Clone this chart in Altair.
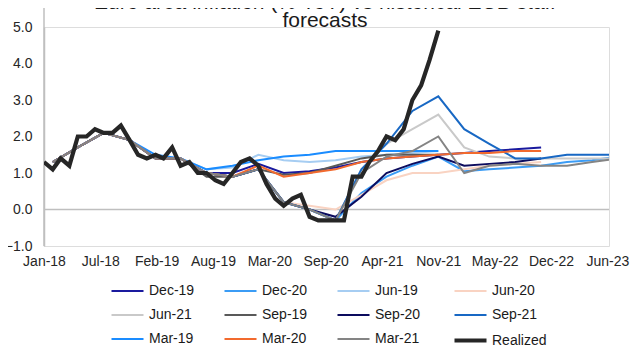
import altair as alt
import pandas as pd

# ---------------- data ----------------
MONTHS = pd.date_range("2018-01-01", "2021-11-01", freq="MS").strftime("%Y-%m-%d").tolist()
REALIZED = [1.3, 1.1, 1.4, 1.2, 2.0, 2.0, 2.2, 2.1, 2.1, 2.3, 1.9, 1.5,
            1.4, 1.5, 1.4, 1.7, 1.2, 1.3, 1.0, 1.0, 0.8, 0.7, 1.0, 1.3,
            1.4, 1.2, 0.7, 0.3, 0.1, 0.3, 0.4, -0.2, -0.3, -0.3, -0.3, -0.3,
            0.9, 0.9, 1.3, 1.6, 2.0, 1.9, 2.2, 3.0, 3.4, 4.1, 4.9]

QUARTERS = ["2018-02-01", "2018-05-01", "2018-08-01", "2018-11-01",
            "2019-02-01", "2019-05-01", "2019-08-01", "2019-11-01",
            "2020-02-01", "2020-05-01", "2020-08-01", "2020-11-01",
            "2021-02-01", "2021-05-01", "2021-08-01", "2021-11-01",
            "2022-02-01", "2022-05-01", "2022-08-01", "2022-11-01",
            "2023-02-01", "2023-05-01", "2023-08-01", "2023-11-01"]
# quarterly history known to the projections
HIST = [1.3, 1.7, 2.1, 1.9, 1.4, 1.4, 1.0, 0.9, 1.1, 0.2, 0.0, -0.3, 1.1, 1.8]

# projection paths: (index of first projected quarter, values)
MAR19 = (4, [1.5, 1.4, 1.1, 1.2, 1.35, 1.45, 1.5, 1.6, 1.6, 1.6, 1.6, 1.6])
JUN19 = (5, [1.4, 1.1, 1.15, 1.5, 1.35, 1.3, 1.35, 1.45, 1.5, 1.55, 1.6])
SEP19 = (6, [0.9, 0.9, 1.1, 0.95, 1.0, 1.2, 1.4, 1.5, 1.5, 1.5])
DEC19 = (7, [1.0, 1.25, 1.0, 1.05, 1.15, 1.3, 1.4, 1.45, 1.5, 1.55, 1.6, 1.65, 1.7])
MAR20 = (8, [1.2, 0.9, 1.0, 1.1, 1.3, 1.4, 1.45, 1.5, 1.55, 1.55, 1.6, 1.6])
JUN20 = (9, [0.2, 0.1, 0.0, 0.4, 0.8, 1.0, 1.0, 1.1, 1.2, 1.25, 1.3])
SEP20 = (10, [0.0, -0.2, 0.35, 1.0, 1.25, 1.45, 1.2, 1.25, 1.3, 1.4])
DEC20 = (11, [-0.3, 0.45, 0.9, 1.2, 1.45, 1.05, 1.1, 1.15, 1.2, 1.3, 1.35, 1.45, 1.5])
MAR21 = (12, [1.0, 1.45, 1.6, 2.0, 1.0, 1.2, 1.25, 1.2, 1.2, 1.3, 1.4, 1.5])
JUN21 = (13, [1.8, 2.2, 2.6, 1.7, 1.45, 1.4, 1.4, 1.4, 1.4, 1.4, 1.45])
SEP21 = (14, [2.7, 3.1, 2.2, 1.8, 1.4, 1.4, 1.5, 1.5, 1.5, 1.5])

SERIES = ["Dec-19", "Dec-20", "Jun-19", "Jun-20", "Jun-21", "Sep-19",
          "Sep-20", "Sep-21", "Mar-19", "Mar-20", "Mar-21", "Realized"]
PATHS = {"Dec-19": DEC19, "Dec-20": DEC20, "Jun-19": JUN19, "Jun-20": JUN20,
         "Jun-21": JUN21, "Sep-19": SEP19, "Sep-20": SEP20, "Sep-21": SEP21,
         "Mar-19": MAR19, "Mar-20": MAR20, "Mar-21": MAR21}
COLORS = ["#1a1a9e", "#3b9cf5", "#a6cdf2", "#f9d3c2", "#c9c9c9", "#595959",
          "#0c0c5e", "#1868c4", "#1a8cff", "#f26a2e", "#848484", "#262626"]
WIDTHS = [2, 2, 2, 2, 2, 2, 2, 2, 2, 2, 2, 4.2]

TICK_DATES = ["2018-01-01", "2018-07-20", "2019-02-05", "2019-08-24", "2020-03-11",
              "2020-09-27", "2021-04-15", "2021-11-01", "2022-05-20", "2022-12-06",
              "2023-06-24"]
Y_TICKS = [-1, 0, 1, 2, 3, 4, 5]
TITLE_1 = "Euro area inflation (% YoY) vs historical ECB staff"
TITLE_2 = "forecasts"

# ---------------- tables ----------------
rows = []
for name in SERIES[:-1]:
    start, vals = PATHS[name]
    full = HIST[:start] + vals
    for d, v in zip(QUARTERS, full):
        rows.append({"date": d, "value": v, "series": name})
fc = pd.DataFrame(rows)
real = pd.DataFrame({"date": MONTHS, "value": REALIZED, "series": "Realized"})


def dt(s):
    y, m, d = (int(p) for p in s.split("-"))
    return alt.DateTime(year=y, month=m, date=d, utc=True)


FONT = "Liberation Sans"
W, H = 565, 219

xscale = alt.Scale(type="utc", domain=[dt("2018-01-01"), dt("2023-06-30")])
yscale = alt.Scale(domain=[-1, 5], nice=False)
cscale = alt.Scale(domain=SERIES, range=COLORS)
wscale = alt.Scale(type="ordinal", domain=SERIES, range=WIDTHS)

legend = alt.Legend(
    title=None, orient="none", legendX=65, legendY=247, columns=4,
    direction="horizontal",
    symbolType="stroke", symbolSize=1024, symbolStrokeWidth=2.5,
    labelFont=FONT, labelFontSize=14, labelColor="#1a1a1a", labelOffset=3,
    columnPadding=25, rowPadding=-4, padding=0, gridAlign="each",
)

y_axis = alt.Axis(values=Y_TICKS, format=".1f", domain=True,
                  domainColor="#bfbfbf", domainWidth=1.5, ticks=False,
                  grid=False, labelFont=FONT, labelFontSize=14,
                  labelColor="#262626", labelPadding=12,
                  labelOverlap=False, labelFlush=False)

x_enc = alt.X("date:T", scale=xscale, title=None,
              axis=alt.Axis(values=[dt(s) for s in TICK_DATES],
                            labelExpr="utcFormat(datum.value, '%b-%y')",
                            domain=False, ticks=False, grid=False,
                            labelFont=FONT, labelFontSize=14, labelColor="#262626",
                            labelPadding=8, labelOverlap=False, labelFlush=False))
y_enc = alt.Y("value:Q", scale=yscale, title=None, axis=y_axis)

lines_fc = alt.Chart(fc).mark_line(clip=True).encode(
    x=x_enc, y=y_enc,
    color=alt.Color("series:N", scale=cscale, legend=legend),
    strokeWidth=alt.StrokeWidth("series:N", scale=wscale, legend=legend),
)
lines_real = alt.Chart(real).mark_line(clip=True).encode(
    x=x_enc, y=y_enc,
    color=alt.Color("series:N", scale=cscale, legend=legend),
    strokeWidth=alt.StrokeWidth("series:N", scale=wscale, legend=legend),
)

one = alt.Data(values=[{}])
zero = alt.Chart(one).mark_rule(color="#bfbfbf", strokeWidth=1.5).encode(
    y=alt.YDatum(0, scale=yscale, axis=y_axis))
yline = alt.Chart(one).mark_rule(color="#bfbfbf", strokeWidth=1.5).encode(
    x=alt.value(0), y=alt.value(-20), y2=alt.value(H))
t1 = alt.Chart(one).mark_text(font=FONT, fontSize=21, color="#1a1a1a",
                              baseline="alphabetic", align="center").encode(
    x=alt.value(281), y=alt.value(-18), text=alt.value(TITLE_1))
t2 = alt.Chart(one).mark_text(font=FONT, fontSize=21, color="#1a1a1a",
                              baseline="alphabetic", align="center").encode(
    x=alt.value(281), y=alt.value(0), text=alt.value(TITLE_2))

chart = alt.layer(zero, yline, lines_fc, lines_real, t1, t2).properties(
    width=W, height=H,
    autosize=alt.AutoSizeParams(type="none"),
    padding={"left": 36, "top": 19, "right": 23, "bottom": 106},
).configure_view(stroke=None).configure(background="white")

chart.save("out.html", embed_options={"renderer": "svg", "actions": False})
